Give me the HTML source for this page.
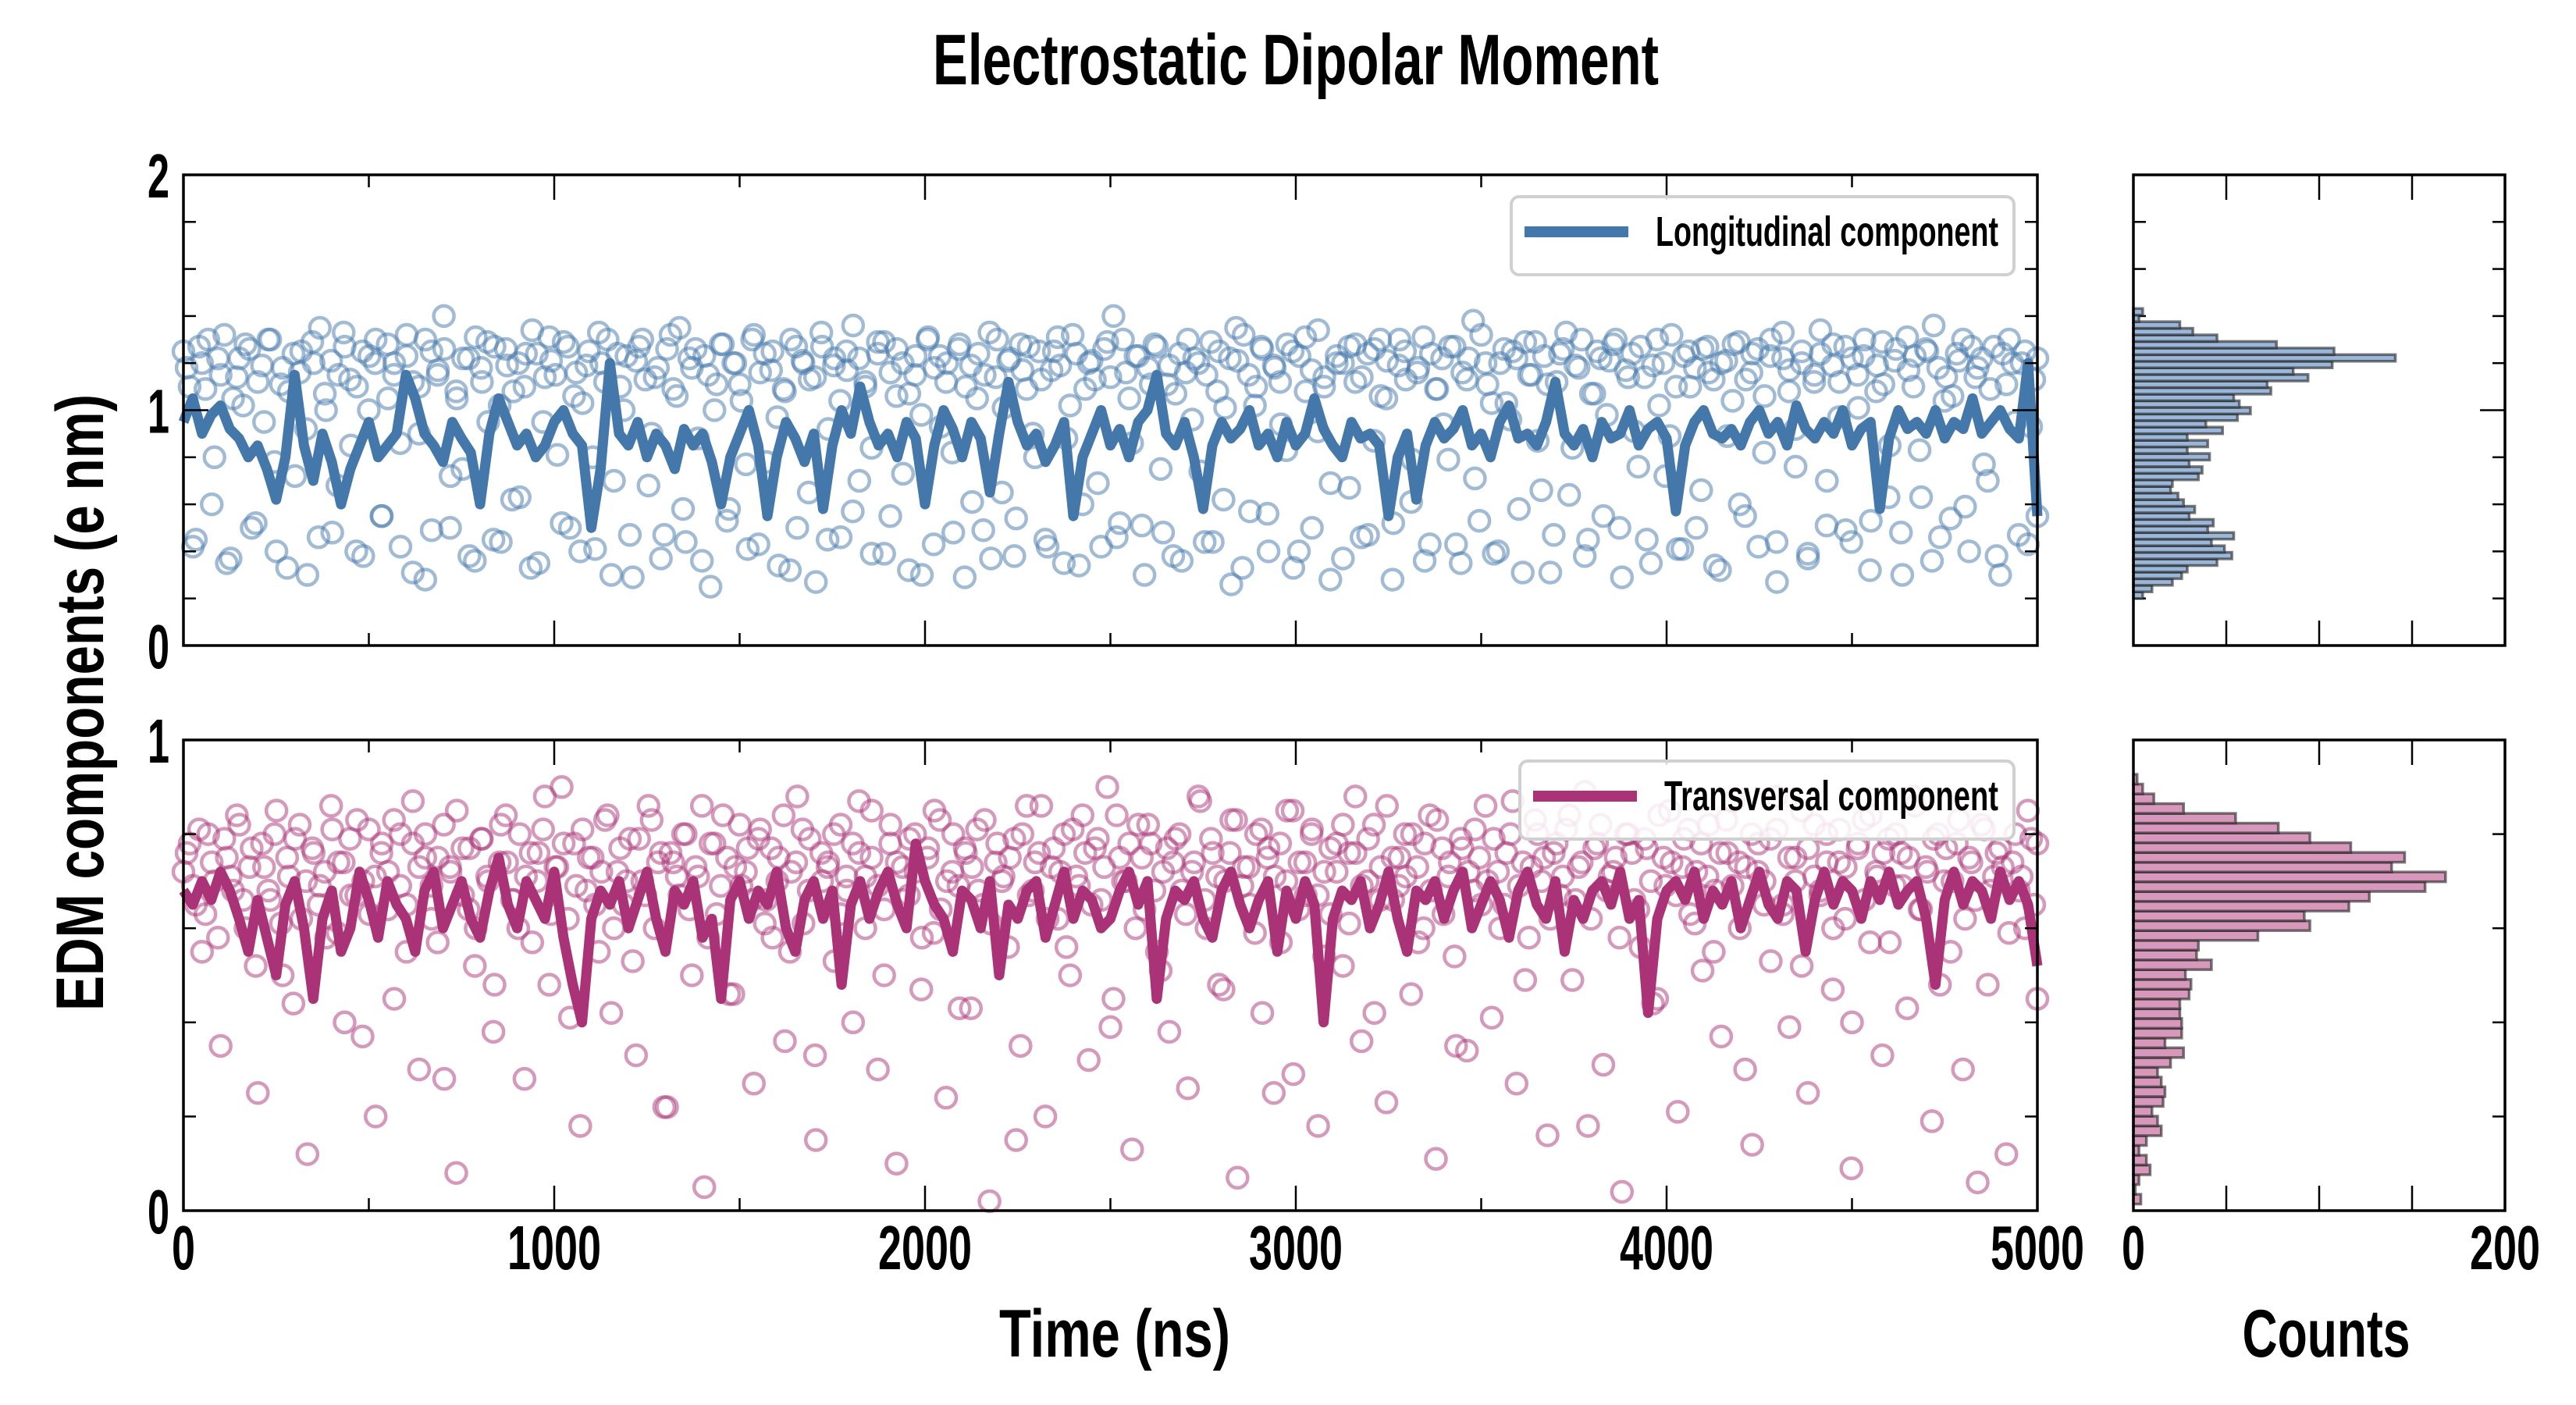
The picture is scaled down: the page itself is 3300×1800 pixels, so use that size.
<!DOCTYPE html>
<html><head><meta charset="utf-8"><style>
html,body{margin:0;padding:0;background:#fff;}
svg{display:block;font-family:"Liberation Sans Narrow","Liberation Sans",sans-serif;font-weight:bold;}
</style></head><body>
<svg id="fig" width="3300" height="1800" viewBox="0 0 3300 1800" xmlns="http://www.w3.org/2000/svg">
<text x="1660" y="108" font-size="92" text-anchor="middle" textLength="930" lengthAdjust="spacingAndGlyphs">Electrostatic Dipolar Moment</text>
<text transform="translate(132,900) rotate(-90)" font-size="86" text-anchor="middle" textLength="790" lengthAdjust="spacingAndGlyphs">EDM components (e nm)</text>
<text x="1428" y="1738" font-size="86" text-anchor="middle" textLength="296" lengthAdjust="spacingAndGlyphs">Time (ns)</text>
<text x="2980" y="1738" font-size="86" text-anchor="middle" textLength="215" lengthAdjust="spacingAndGlyphs">Counts</text>
</svg>
<script>
const topScatter=[1.25,1.1,0.45,1.2,1.3,0.8,1.15,0.35,1.05,1.22,1.28,0.5,1.12,0.95,1.3,0.4,1.18,1.08,0.72,1.25,0.3,1.2,1.35,1.0,0.48,1.15,1.27,0.85,1.1,0.38,1.23,1.3,0.55,1.05,1.2,0.42,1.32,1.12,0.9,0.28,1.25,1.15,1.4,0.5,1.08,0.75,1.22,0.36,1.18,1.29,0.45,1.02,1.26,0.62,1.2,1.1,0.33,1.24,0.95,1.31,1.15,0.52,1.27,1.06,0.4,1.19,0.8,1.33,1.12,0.3,1.24,1.0,0.47,1.21,1.3,0.68,1.14,0.37,1.26,1.09,1.35,0.44,1.18,0.88,1.23,0.25,1.11,1.28,0.58,1.2,1.04,0.41,1.32,1.16,0.78,1.25,0.34,1.08,1.3,0.5,1.2,1.13,0.27,1.27,0.92,1.22,0.46,1.17,1.36,0.7,1.1,0.39,1.24,1.29,0.55,1.06,1.2,0.32,1.15,0.98,1.3,0.43,1.23,1.12,0.82,1.26,0.29,1.19,1.05,0.49,1.33,1.14,0.65,1.21,0.38,1.28,1.09,0.9,1.25,0.45,1.17,1.31,0.35,1.02,1.24,0.6,1.2,1.13,0.42,1.29,1.4,0.52,1.16,0.86,1.23,0.3,1.11,1.27,0.48,1.19,1.07,0.36,1.3,1.22,0.74,1.15,0.44,1.25,1.01,0.26,1.21,1.32,0.57,1.1,1.26,0.4,1.18,0.94,1.28,0.33,1.23,1.08,0.5,1.34,1.14,0.69,1.2,0.37,1.27,1.12,0.46,1.24,0.87,1.3,1.05,0.28,1.19,1.25,0.61,1.16,1.31,0.43,1.09,1.22,0.79,1.27,0.35,1.13,1.38,0.53,1.2,1.03,0.4,1.26,0.96,1.22,0.31,1.15,1.29,0.66,1.11,0.47,1.24,1.33,0.84,1.18,0.38,1.07,1.25,0.55,1.21,1.3,0.29,1.14,0.91,1.27,0.45,1.19,1.02,0.72,1.32,0.41,1.23,1.1,0.5,1.26,1.16,0.34,1.2,0.89,1.28,0.6,1.13,1.24,0.42,1.06,1.3,0.27,1.22,1.17,0.76,1.25,0.39,1.12,1.34,0.51,1.19,0.97,1.27,0.44,1.15,1.23,0.32,1.08,1.29,0.63,1.21,0.48,1.31,1.1,0.83,1.26,0.36,1.18,1.04,0.54,1.24,1.3,0.4,1.14,1.22,0.7,1.27,0.3,1.11,1.2,0.47,1.25,0.93,0.55];
const topScatterB=[1.18,0.42,1.27,1.09,0.6,1.22,1.32,0.37,1.14,1.02,1.26,0.52,1.19,1.3,0.78,1.11,0.33,1.24,1.16,0.92,1.29,0.46,1.07,1.21,0.68,1.33,1.13,0.4,1.25,1.0,1.2,0.55,1.28,1.15,0.86,1.23,0.31,1.1,1.3,0.49,1.17,1.26,0.72,1.05,1.22,0.38,1.31,1.12,0.95,1.27,0.44,1.19,1.08,0.63,1.24,1.34,0.35,1.14,1.21,0.81,1.29,0.5,1.16,1.03,1.25,0.41,1.2,1.3,0.7,1.1,1.23,0.29,1.27,1.13,0.9,1.18,0.47,1.32,1.06,0.58,1.22,1.26,0.36,1.15,1.0,1.28,0.53,1.2,1.11,0.77,1.3,0.43,1.24,1.17,0.97,1.09,0.32,1.27,1.21,0.65,1.14,1.33,0.45,1.19,1.04,1.25,0.57,1.22,1.12,0.84,1.29,0.39,1.16,1.26,0.73,1.07,1.23,0.3,1.31,1.18,0.93,1.2,0.48,1.28,1.1,0.61,1.24,1.15,0.37,1.3,1.01,1.22,0.54,1.17,1.27,0.8,1.13,0.42,1.25,1.19,0.88,1.32,0.34,1.09,1.21,0.69,1.26,1.14,0.46,1.3,1.05,1.23,0.51,1.18,1.28,0.75,1.11,0.38,1.24,1.16,0.96,1.2,0.44,1.29,1.08,0.62,1.22,1.35,0.33,1.15,1.02,1.27,0.56,1.19,1.12,0.83,1.25,0.4,1.31,1.17,0.91,1.1,0.28,1.23,1.2,0.67,1.28,1.14,0.47,1.26,1.06,1.21,0.52,1.3,1.13,0.79,1.18,0.36,1.24,1.09,0.94,1.27,0.43,1.16,1.22,0.71,1.32,1.11,0.39,1.2,1.03,1.25,0.58,1.29,1.15,0.87,1.23,0.31,1.12,1.26,0.64,1.19,1.3,0.45,1.07,1.22,0.98,1.28,0.5,1.17,1.24,0.76,1.14,0.35,1.3,1.2,0.89,1.1,0.41,1.25,1.18,0.66,1.27,1.13,0.32,1.21,1.04,1.29,0.55,1.16,1.26,0.82,1.23,0.44,1.33,1.08,0.92,1.2,0.37,1.15,1.24,0.7,1.28,1.12,0.49,1.22,1.01,1.3,0.53,1.19,1.11,0.85,1.26,0.3,1.17,1.23,0.63,1.25,1.36,0.46,1.14,1.06,1.21,0.59,1.27,1.18,0.77,1.09,0.38,1.24,1.3,0.95,1.2,0.43,1.13,1.22];
const bottomScatter=[0.72,0.78,0.65,0.55,0.8,0.7,0.35,0.75,0.68,0.82,0.6,0.77,0.25,0.73,0.66,0.85,0.5,0.71,0.79,0.62,0.12,0.76,0.69,0.58,0.81,0.74,0.4,0.67,0.83,0.7,0.63,0.2,0.78,0.72,0.45,0.8,0.65,0.87,0.3,0.75,0.69,0.57,0.82,0.73,0.08,0.77,0.64,0.52,0.79,0.71,0.38,0.74,0.84,0.66,0.6,0.28,0.76,0.7,0.81,0.48,0.73,0.9,0.62,0.78,0.18,0.68,0.75,0.55,0.83,0.42,0.72,0.65,0.79,0.33,0.7,0.86,0.6,0.76,0.22,0.74,0.67,0.8,0.5,0.71,0.05,0.78,0.63,0.84,0.46,0.73,0.69,0.77,0.27,0.81,0.66,0.58,0.75,0.36,0.72,0.88,0.61,0.79,0.15,0.7,0.74,0.53,0.82,0.68,0.4,0.76,0.71,0.85,0.3,0.64,0.78,0.1,0.73,0.67,0.8,0.47,0.75,0.59,0.83,0.24,0.72,0.69,0.77,0.43,0.81,0.65,0.02,0.74,0.7,0.56,0.79,0.35,0.86,0.68,0.76,0.2,0.73,0.62,0.8,0.5,0.71,0.84,0.32,0.77,0.66,0.9,0.45,0.75,0.7,0.13,0.82,0.64,0.78,0.55,0.72,0.38,0.79,0.68,0.26,0.74,0.87,0.6,0.76,0.48,0.7,0.83,0.07,0.73,0.65,0.8,0.42,0.77,0.71,0.57,0.85,0.29,0.74,0.67,0.81,0.18,0.72,0.63,0.78,0.52,0.76,0.88,0.36,0.7,0.82,0.66,0.23,0.75,0.69,0.8,0.46,0.73,0.6,0.84,0.11,0.77,0.71,0.54,0.79,0.34,0.68,0.75,0.86,0.41,0.72,0.65,0.8,0.27,0.74,0.58,0.83,0.7,0.16,0.76,0.67,0.81,0.49,0.73,0.89,0.62,0.78,0.31,0.71,0.75,0.04,0.8,0.66,0.56,0.77,0.44,0.84,0.69,0.74,0.21,0.79,0.63,0.72,0.51,0.82,0.68,0.37,0.76,0.87,0.6,0.73,0.14,0.78,0.7,0.53,0.81,0.65,0.39,0.75,0.85,0.25,0.71,0.67,0.8,0.47,0.74,0.62,0.09,0.77,0.83,0.57,0.72,0.33,0.79,0.69,0.76,0.43,0.88,0.64,0.73,0.19,0.8,0.7,0.55,0.78,0.3,0.75,0.66,0.82,0.48,0.71,0.77,0.12,0.74,0.68,0.6,0.79,0.45];
const bottomScatterB=[0.76,0.69,0.81,0.63,0.74,0.58,0.79,0.71,0.84,0.66,0.73,0.52,0.78,0.68,0.8,0.61,0.75,0.44,0.82,0.7,0.77,0.65,0.72,0.86,0.59,0.74,0.79,0.67,0.37,0.81,0.71,0.76,0.64,0.83,0.69,0.55,0.78,0.73,0.8,0.62,0.75,0.28,0.72,0.85,0.67,0.77,0.6,0.79,0.7,0.48,0.82,0.74,0.66,0.8,0.71,0.57,0.76,0.88,0.63,0.73,0.78,0.41,0.69,0.81,0.75,0.65,0.72,0.84,0.6,0.77,0.7,0.53,0.79,0.67,0.83,0.74,0.22,0.76,0.71,0.8,0.64,0.73,0.86,0.58,0.78,0.69,0.75,0.46,0.82,0.72,0.66,0.79,0.61,0.77,0.7,0.84,0.55,0.74,0.81,0.68,0.33,0.76,0.73,0.8,0.63,0.71,0.78,0.87,0.6,0.75,0.69,0.5,0.82,0.74,0.66,0.79,0.72,0.58,0.77,0.85,0.64,0.7,0.8,0.43,0.76,0.73,0.68,0.83,0.61,0.78,0.71,0.75,0.15,0.8,0.67,0.74,0.86,0.62,0.77,0.72,0.56,0.81,0.69,0.76,0.65,0.79,0.73,0.39,0.84,0.7,0.78,0.6,0.75,0.82,0.68,0.51,0.77,0.74,0.8,0.63,0.72,0.88,0.66,0.79,0.71,0.47,0.76,0.83,0.69,0.73,0.59,0.81,0.75,0.25,0.78,0.7,0.85,0.64,0.74,0.8,0.67,0.54,0.77,0.72,0.82,0.61,0.76,0.69,0.79,0.42,0.73,0.86,0.66,0.75,0.71,0.8,0.57,0.78,0.68,0.83,0.63,0.74,0.35,0.77,0.72,0.81,0.65,0.7,0.79,0.6,0.76,0.87,0.69,0.49,0.73,0.8,0.75,0.62,0.78,0.71,0.84,0.66,0.74,0.18,0.77,0.82,0.68,0.72,0.58,0.8,0.76,0.64,0.79,0.7,0.45,0.75,0.85,0.67,0.73,0.81,0.61,0.78,0.71,0.55,0.76,0.83,0.69,0.74,0.3,0.8,0.72,0.65,0.79,0.88,0.63,0.75,0.7,0.52,0.77,0.82,0.68,0.74,0.6,0.81,0.73,0.4,0.78,0.66,0.84,0.71,0.76,0.57,0.8,0.69,0.75,0.86,0.64,0.72,0.79,0.48,0.77,0.7,0.83,0.62,0.74,0.06,0.81,0.68,0.76,0.73,0.59,0.8,0.71,0.85,0.65,0.78];
const topLine=[0.95,1.05,0.9,0.98,1.02,0.92,0.88,0.8,0.85,0.75,0.62,0.8,1.15,0.85,0.7,0.9,0.78,0.6,0.75,0.85,0.95,0.8,0.85,0.9,1.15,1.05,0.9,0.85,0.78,0.95,0.88,0.82,0.6,0.9,1.05,0.95,0.85,0.9,0.8,0.85,0.95,1.0,0.9,0.85,0.5,0.75,1.2,0.9,0.85,0.95,0.8,0.9,0.85,0.75,0.92,0.85,0.9,0.78,0.6,0.8,0.9,1.0,0.85,0.55,0.8,0.95,0.88,0.78,0.9,0.58,0.85,1.0,0.9,1.1,0.95,0.85,0.9,0.8,0.95,0.88,0.6,0.85,1.0,0.92,0.8,0.95,0.88,0.65,0.9,1.12,0.95,0.85,0.9,0.78,0.85,0.95,0.55,0.8,0.9,1.0,0.85,0.92,0.8,0.95,1.0,1.15,0.9,0.85,0.95,0.8,0.58,0.85,0.95,0.88,0.92,1.0,0.85,0.9,0.8,0.95,0.85,0.9,1.05,0.92,0.85,0.8,0.95,0.88,0.9,0.85,0.55,0.8,0.9,0.62,0.85,0.95,0.88,0.92,1.0,0.85,0.9,0.8,0.95,1.02,0.88,0.9,0.85,0.95,1.12,0.9,0.85,0.92,0.8,0.95,0.88,0.9,1.0,0.85,0.92,0.95,0.88,0.57,0.85,0.95,1.0,0.9,0.88,0.92,0.85,0.95,1.0,0.9,0.95,0.85,1.02,0.92,0.88,0.95,0.9,1.0,0.85,0.92,0.95,0.58,0.88,1.0,0.92,0.95,0.9,1.0,0.88,0.95,0.92,1.05,0.9,0.95,1.0,0.92,0.88,1.2,0.55];
const bottomLine=[0.68,0.65,0.7,0.66,0.72,0.68,0.62,0.55,0.66,0.58,0.5,0.65,0.7,0.6,0.45,0.62,0.68,0.55,0.6,0.72,0.66,0.58,0.7,0.65,0.62,0.55,0.68,0.72,0.6,0.65,0.7,0.62,0.58,0.68,0.75,0.65,0.6,0.7,0.66,0.62,0.72,0.58,0.48,0.4,0.62,0.68,0.65,0.7,0.6,0.66,0.72,0.62,0.55,0.68,0.65,0.7,0.58,0.62,0.45,0.66,0.7,0.62,0.68,0.65,0.72,0.6,0.55,0.66,0.7,0.62,0.68,0.48,0.65,0.7,0.62,0.68,0.72,0.65,0.6,0.78,0.7,0.65,0.62,0.55,0.68,0.66,0.6,0.7,0.5,0.65,0.62,0.68,0.7,0.58,0.65,0.72,0.62,0.68,0.66,0.6,0.62,0.68,0.72,0.65,0.7,0.45,0.62,0.68,0.66,0.7,0.62,0.58,0.68,0.72,0.65,0.6,0.66,0.7,0.55,0.68,0.62,0.7,0.65,0.4,0.62,0.68,0.66,0.7,0.6,0.65,0.72,0.62,0.55,0.68,0.66,0.7,0.62,0.68,0.72,0.6,0.65,0.7,0.66,0.58,0.68,0.72,0.65,0.62,0.7,0.55,0.66,0.62,0.68,0.7,0.65,0.72,0.62,0.66,0.42,0.62,0.68,0.7,0.66,0.72,0.62,0.68,0.65,0.7,0.6,0.66,0.72,0.65,0.62,0.7,0.68,0.55,0.66,0.72,0.65,0.7,0.68,0.62,0.7,0.66,0.72,0.65,0.68,0.7,0.62,0.48,0.66,0.72,0.65,0.7,0.68,0.62,0.72,0.66,0.7,0.65,0.52];
const topHistCounts=[5,10,21,26,29,45,53,49,42,54,40,43,30,33,27,24,20,21,35,37,30,41,29,40,29,48,39,56,63,57,54,74,72,94,86,107,141,108,77,45,32,25,3,5];
const bottomHistCounts=[4,1,3,9,7,3,7,15,13,10,16,17,15,13,20,27,17,26,26,25,25,30,31,28,42,34,35,67,95,92,116,127,157,168,139,146,117,95,78,55,27,11,5,2];
const topHistBin=[0.20,0.028];
const bottomHistBin=[0.014,0.02075];
const timeTicks=[0,1000,2000,3000,4000,5000];
const countTickLabels=[0,200];

const NS='http://www.w3.org/2000/svg';
const svg=document.getElementById('fig');
function el(tag,attrs,parent){const e=document.createElementNS(NS,tag);for(const k in attrs)e.setAttribute(k,attrs[k]);(parent||svg).appendChild(e);return e;}
const L=235,R=2610,HL=2733,HR=3209;
const panels=[{top:224,bot:827,ymax:2,scat:[topScatter,topScatterB],line:topLine,col:'#4477aa',hist:topHistCounts,bin:topHistBin,fill:'#9ab6d8',name:'longitudinal',legend:'Longitudinal component',lg:[1936,252,644,100],labels:['0','1','2']},
{top:948,bot:1551,ymax:1,scat:[bottomScatter,bottomScatterB],line:bottomLine,col:'#aa3377',hist:bottomHistCounts,bin:bottomHistBin,fill:'#d898bb',name:'transversal',legend:'Transversal component',lg:[1947,975,633,100],labels:['0','1']}];
const xT=t=>L+(R-L)*t/5000;
const xC=c=>HL+(HR-HL)*c/200;
panels.forEach((p,pi)=>{
  const yS=v=>p.bot-(p.bot-p.top)*v/p.ymax;
  const g=el('g',{});
  
  
  const sg=el('g',{fill:'none',stroke:p.col,'stroke-width':4.5,'stroke-opacity':0.5},g);
  
  
  p.scat.forEach((arr,ai)=>{
    const n=arr.length, off=ai*5000/(n-1)/2;
    arr.forEach((v,i)=>{const t=Math.min(5000,i*5000/(n-1)+off);
      const c=el('circle',{cx:xT(t),cy:yS(v),r:13},sg);
      
      });
  });
  const pts=p.line.map((v,i)=>xT(i*5000/(p.line.length-1)).toFixed(1)+','+yS(v).toFixed(1)).join(' ');
  const ln=el('polyline',{points:pts,fill:'none',stroke:p.col,'stroke-width':13,'stroke-linejoin':'round'},g);
  
  
  const tk=el('g',{stroke:'#000','stroke-width':2.5},g);
  for(let t=500;t<5000;t+=500){const len=(t%1000===0)?32:16;
    el('line',{x1:xT(t),x2:xT(t),y1:p.bot,y2:p.bot-len},tk);el('line',{x1:xT(t),x2:xT(t),y1:p.top,y2:p.top+len},tk);}
  for(let k=1;k<p.ymax*5;k++){const v=k*0.2,len=(k%5===0)?32:16;
    el('line',{x1:L,x2:L+len,y1:yS(v),y2:yS(v)},tk);el('line',{x1:R,x2:R-len,y1:yS(v),y2:yS(v)},tk);
    el('line',{x1:HL,x2:HL+len,y1:yS(v),y2:yS(v)},tk);el('line',{x1:HR,x2:HR-len,y1:yS(v),y2:yS(v)},tk);}
  for(let c=50;c<200;c+=50){el('line',{x1:xC(c),x2:xC(c),y1:p.bot,y2:p.bot-32},tk);el('line',{x1:xC(c),x2:xC(c),y1:p.top,y2:p.top+32},tk);}
  const hg=el('g',{},g);
  
  
  p.hist.forEach((c,i)=>{const y0=p.bin[0]+i*p.bin[1],y1=y0+p.bin[1];
    const b=el('rect',{x:HL,y:yS(y1),width:xC(c)-HL,height:yS(y0)-yS(y1),fill:p.fill,stroke:'#222','stroke-opacity':0.6,'stroke-width':3.5},hg);
    
    });
  const f1=el('rect',{x:L,y:p.top,width:R-L,height:p.bot-p.top,fill:'none',stroke:'#000','stroke-width':3.5},g);
  
  
  const f2=el('rect',{x:HL,y:p.top,width:HR-HL,height:p.bot-p.top,fill:'none',stroke:'#000','stroke-width':3.5},g);
  
  
  p.labels.forEach((s,k)=>{const t=el('text',{x:217,y:yS(k)+29,'font-size':80,'text-anchor':'end',textLength:28,lengthAdjust:'spacingAndGlyphs'},g);t.textContent=s;
    
    });
  const lgG=el('g',{},g);
  
  
  el('rect',{x:p.lg[0],y:p.lg[1],width:p.lg[2],height:p.lg[3],rx:10,fill:'#fff','fill-opacity':0.85,stroke:'#d0d0d0','stroke-width':4},lgG);
  el('line',{x1:p.lg[0]+17,x2:p.lg[0]+150,y1:p.lg[1]+45,y2:p.lg[1]+45,stroke:p.col,'stroke-width':14},lgG);
  const lt=el('text',{x:p.lg[0]+p.lg[2]-20,y:p.lg[1]+63,'font-size':54,'text-anchor':'end',textLength:p.lg[2]-205,lengthAdjust:'spacingAndGlyphs'},lgG);
  lt.textContent=p.legend;
  
  
});
timeTicks.forEach(t=>{const s=String(t);const tx=el('text',{x:xT(t),y:1626,'font-size':80,'text-anchor':'middle',textLength:s.length*30,lengthAdjust:'spacingAndGlyphs'});tx.textContent=s;
  
  });
countTickLabels.forEach(c=>{const s=String(c);const tx=el('text',{x:xC(c),y:1626,'font-size':80,'text-anchor':'middle',textLength:s.length*30,lengthAdjust:'spacingAndGlyphs'});tx.textContent=s;
  
  });
</script>
</body></html>
